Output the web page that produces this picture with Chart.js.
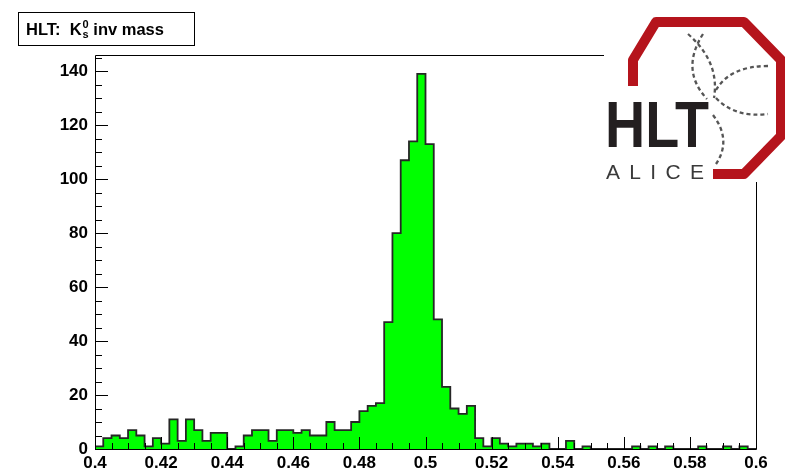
<!DOCTYPE html>
<html><head><meta charset="utf-8">
<script src="https://cdn.jsdelivr.net/npm/chart.js@4.4.0/dist/chart.umd.min.js"></script>
<style>
html,body{margin:0;padding:0;background:#fff;}
#wrap{position:relative;width:785px;height:469px;overflow:hidden;background:#fff;}
#c{position:absolute;left:0;top:0;}
#title{position:absolute;left:18px;top:12px;width:177px;height:34px;border:1px solid #000;box-sizing:border-box;
  font:bold 16.5px "Liberation Sans",Arial,sans-serif;color:#000;line-height:32px;padding-left:7px;white-space:nowrap;}
#title .ss{display:inline-block;vertical-align:middle;font-size:11px;line-height:10px;text-align:left;margin-left:1px;position:relative;top:-2px;}
#title .ss span{display:block;}
#logo{position:absolute;left:0;top:0;}
</style>
</head><body>
<div id="wrap">
<canvas id="c" width="785" height="469"></canvas>
<div id="title">HLT:&nbsp; K<span class="ss"><span>0</span><span>s</span></span> inv mass</div>
<svg id="logo" width="785" height="469" viewBox="0 0 785 469">
  <rect x="604" y="16" width="181" height="166" fill="#fff"/>
  <path d="M633,86 L633,60 L656,22 L744,22 L781,60 L781,136 L744,174 L713,174" fill="none" stroke="#b5141c" stroke-width="10" stroke-linejoin="round"/>
  <g fill="none" stroke="#555" stroke-width="2.3" stroke-dasharray="4,3">
    <path d="M688,34 Q720,62 714,98"/>
    <path d="M703,34 Q680,70 707,99"/>
    <path d="M716,90 Q730,66 768,66"/>
    <path d="M716,98 Q735,118 768,114"/>
    <path d="M713,115 Q732,140 716,164"/>
  </g>
  <text x="605" y="147" font-family="Liberation Sans Narrow, Liberation Sans, Arial, sans-serif" font-weight="bold" font-size="64" fill="#231f20" textLength="104" lengthAdjust="spacingAndGlyphs">HLT</text>
  <text x="606" y="179" font-family="Liberation Sans, Arial, sans-serif" font-size="21" fill="#3a3a3a" textLength="98" lengthAdjust="spacing">ALICE</text>
</svg>
</div>
<script>
// ---- data ----
const xRange = [0.4, 0.6];
const counts = [
  1, 4, 5, 4, 7, 5, 1, 4, 2, 11,
  3, 11, 7, 3, 6, 6, 0, 1, 5, 7,
  7, 3, 7, 7, 6, 7, 5, 5, 10, 7,
  7, 10, 14, 16, 17, 47, 80, 107, 114, 139,
  113, 48, 23, 15, 13, 16, 4, 1, 4, 2,
  1, 2, 2, 1, 2, 0, 0, 3, 0, 1,
  0, 0, 0, 0, 0, 1, 0, 1, 0, 1,
  0, 0, 0, 1, 0, 0, 1, 0, 1, 0
];
const xTicks = [0.4, 0.42, 0.44, 0.46, 0.48, 0.5, 0.52, 0.54, 0.56, 0.58, 0.6];
const yTicks = [0, 20, 40, 60, 80, 100, 120, 140];
const yMax = 146;

// bin edges from the axis range
const nb = counts.length;
const edges = [];
for (let i = 0; i <= nb; i++) edges.push(xRange[0] + i * (xRange[1] - xRange[0]) / nb);
const pts = [{x: edges[0], y: 0}];
for (let i = 0; i < nb; i++) pts.push({x: edges[i], y: counts[i]});
pts.push({x: edges[nb], y: counts[nb - 1]});
pts.push({x: edges[nb], y: 0});

const frame = {
  id: 'frame',
  afterDatasetsDraw(chart) {
    const {ctx, chartArea: a, scales: {x, y}} = chart;
    ctx.save();
    ctx.strokeStyle = '#000';
    ctx.lineWidth = 1;
    ctx.beginPath();
    ctx.rect(Math.round(a.left) + 0.5, Math.round(a.top) + 0.5, Math.round(a.right - a.left), Math.round(a.bottom - a.top));
    ctx.stroke();
    ctx.beginPath();
    const xs = (xRange[1] - xRange[0]) / 40;
    for (let i = 0; i <= 40; i++) {
      const v = xRange[0] + i * xs;
      const px = Math.round(x.getPixelForValue(v)) + 0.5;
      const len = (i % 4 === 0) ? 12 : 6;
      ctx.moveTo(px, a.bottom);
      ctx.lineTo(px, a.bottom - len);
    }
    for (let v = 0; v <= yMax; v += 5) {
      const py = Math.round(y.getPixelForValue(v)) + 0.5;
      const len = (v % 20 === 0) ? 13 : 7;
      ctx.moveTo(a.left, py);
      ctx.lineTo(a.left + len, py);
    }
    ctx.stroke();
    ctx.restore();
  }
};

const tickFont = {family: '"Liberation Sans", Arial, sans-serif', size: 17, weight: 'bold'};

new Chart(document.getElementById('c'), {
  type: 'line',
  data: {
    datasets: [{
      data: pts,
      stepped: 'before',
      fill: 'origin',
      backgroundColor: '#00ff00',
      borderColor: '#262626',
      borderWidth: 1.8,
      pointRadius: 0,
      tension: 0
    }]
  },
  options: {
    responsive: false,
    animation: false,
    events: [],
    layout: {padding: {left: 0, top: 55, right: 29, bottom: 0}},
    plugins: {legend: {display: false}, tooltip: {enabled: false}, title: {display: false}},
    scales: {
      x: {
        type: 'linear', min: xRange[0], max: xRange[1],
        grid: {display: false, drawTicks: false}, border: {display: false},
        afterBuildTicks: s => { s.ticks = xTicks.map(v => ({value: v})); },
        afterFit: s => { s.height = 20; },
        ticks: {font: tickFont, color: '#000', padding: 4, maxRotation: 0, autoSkip: false,
          callback: v => String(+(+v).toFixed(2))}
      },
      y: {
        type: 'linear', min: 0, max: yMax,
        grid: {display: false, drawTicks: false}, border: {display: false},
        afterBuildTicks: s => { s.ticks = yTicks.map(v => ({value: v})); },
        afterFit: s => { s.width = 95; },
        ticks: {font: tickFont, color: '#000', padding: 7, callback: v => String(v)}
      }
    }
  },
  plugins: [frame]
});
</script>
</body></html>
